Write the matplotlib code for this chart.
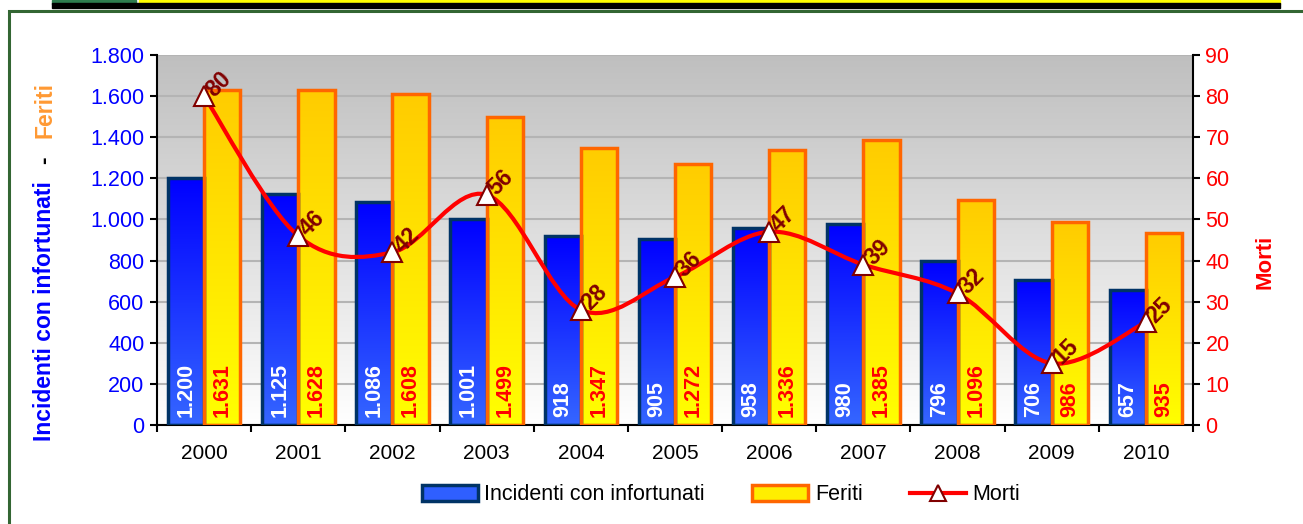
import numpy as np
import matplotlib
matplotlib.use("Agg")
import matplotlib.pyplot as plt
from matplotlib.patches import Rectangle, PathPatch
from matplotlib.path import Path
from matplotlib.lines import Line2D
from matplotlib.colors import LinearSegmentedColormap

plt.rcParams['font.family'] = ['Liberation Sans', 'DejaVu Sans']

# data
anni = ['2000', '2001', '2002', '2003', '2004', '2005', '2006', '2007', '2008', '2009', '2010']
incidenti = [1200, 1125, 1086, 1001, 918, 905, 958, 980, 796, 706, 657]
feriti = [1631, 1628, 1608, 1499, 1347, 1272, 1336, 1385, 1096, 986, 935]
morti = [80, 46, 42, 56, 28, 36, 47, 39, 32, 15, 25]

W, H = 1303, 524
fig = plt.figure(figsize=(W / 100, H / 100), dpi=100)


def fx(x):
    return x / W


def fy(y):
    return 1 - y / H


# top banner and green frame
fig.add_artist(Rectangle((fx(52), fy(4)), fx(84), 4 / H, color='#2e7d4f', transform=fig.transFigure))
fig.add_artist(Rectangle((fx(139), fy(4)), fx(1141), 4 / H, color='#ffff00', transform=fig.transFigure))
fig.add_artist(Rectangle((fx(52), fy(7.5)), fx(1228), 4 / H, color='black', transform=fig.transFigure))
fig.add_artist(Rectangle((fx(8.5), fy(600)), fx(1400), 589 / H, facecolor='none',
                         edgecolor='#336633', lw=2.2, transform=fig.transFigure))

ax = fig.add_axes([fx(157), fy(425), fx(1193 - 157), (425 - 55) / H])
ax2 = ax.twinx()

n = len(anni)
x = np.arange(n)
bw = 0.385

# plot background gradient
bg = np.linspace(0, 1, 256).reshape(-1, 1)
bg_cmap = LinearSegmentedColormap.from_list('bg', ['#ffffff', '#bfbfbf'])
ax.imshow(bg, extent=[0, 1, 0, 1], transform=ax.transAxes, aspect='auto',
          cmap=bg_cmap, origin='lower', zorder=0)

ax.set_yticks(np.arange(0, 1801, 200))
ax.yaxis.grid(True, color='#b4b4b4', lw=1.5, zorder=1)
ax.set_axisbelow(True)

blue_cmap = LinearSegmentedColormap.from_list('blu', ['#3566ff', '#0000ff'])
yel_cmap = LinearSegmentedColormap.from_list('gia', ['#ffff00', '#ffcc00'])
grad = np.linspace(0, 1, 128).reshape(-1, 1)

for i in range(n):
    x0 = x[i] - bw
    ax.imshow(grad, extent=[x0, x[i], 0, incidenti[i]], aspect='auto', cmap=blue_cmap,
              origin='lower', zorder=2)
    ax.add_patch(Rectangle((x0, 0), bw, incidenti[i], facecolor='none',
                           edgecolor='#003366', lw=2.5, zorder=3))
    ax.imshow(grad, extent=[x[i], x[i] + bw, 0, feriti[i]], aspect='auto', cmap=yel_cmap,
              origin='lower', zorder=2)
    ax.add_patch(Rectangle((x[i], 0), bw, feriti[i], facecolor='none',
                           edgecolor='#ff6600', lw=2.5, zorder=3))


def fmt(v):
    return f"{v:,}".replace(',', '.')


for i in range(n):
    ax.annotate(fmt(incidenti[i]), (x[i] - bw / 2, 0), xytext=(0, 6), textcoords='offset points',
                rotation=90, ha='center', va='bottom', color='white', fontsize=15.5,
                fontweight='bold', zorder=4)
    ax.annotate(fmt(feriti[i]), (x[i] + bw / 2, 0), xytext=(0, 6), textcoords='offset points',
                rotation=90, ha='center', va='bottom', color='#ff0000', fontsize=15.5,
                fontweight='bold', zorder=4)

ax.set_xlim(-0.5, n - 0.5)
ax.set_ylim(0, 1800)
ax.yaxis.set_major_formatter(plt.FuncFormatter(lambda v, p: fmt(int(v))))
ax.set_xticks(np.arange(n + 1) - 0.5)
ax.set_xticklabels([])
ax.set_xticks(x, minor=True)
ax.set_xticklabels(anni, minor=True)
ax.tick_params(axis='x', which='major', length=5, width=1.5, direction='out')
ax.tick_params(axis='x', which='minor', length=0, pad=14, labelsize=15, labelcolor='black')
ax.tick_params(axis='y', length=5, width=1.5, pad=4, labelsize=15.5, labelcolor='#0000ff')
for s in ['left', 'bottom']:
    ax.spines[s].set_linewidth(1.5)
ax.spines['top'].set_visible(False)
ax.spines['right'].set_visible(False)

# smoothed line for morti (bezier through the points)
pts = np.column_stack([x, morti]).astype(float)
ext = np.vstack([pts[0], pts, pts[-1]])
verts = [tuple(pts[0])]
codes = [Path.MOVETO]
for i in range(n - 1):
    p0, p1, p2, p3 = ext[i], ext[i + 1], ext[i + 2], ext[i + 3]
    verts += [tuple(p1 + (p2 - p0) / 6), tuple(p2 - (p3 - p1) / 6), tuple(p2)]
    codes += [Path.CURVE4] * 3
ax2.add_patch(PathPatch(Path(verts, codes), facecolor='none', edgecolor='#ff0000', lw=3, zorder=5))
ax2.plot(x, morti, ls='none', marker='^', ms=15, mfc='white', mec='#800000', mew=1.5, zorder=6)
for i in range(n):
    ax2.annotate(str(morti[i]), (x[i], morti[i]), xytext=(7, -1), textcoords='offset points',
                 rotation=45, rotation_mode='anchor', ha='left', va='baseline',
                 color='#800000', fontsize=16.5, fontweight='bold', zorder=7)

ax2.set_ylim(0, 90)
ax2.set_yticks(np.arange(0, 91, 10))
ax2.tick_params(axis='y', length=5, width=1.5, pad=4, labelsize=15.5, labelcolor='#ff0000')
ax2.spines['right'].set_linewidth(1.5)
ax2.spines['top'].set_visible(False)
ax2.spines['left'].set_visible(False)
ax2.spines['bottom'].set_visible(False)

# axis titles
fig.text(fx(45), fy(441), 'Incidenti con infortunati', rotation=90, ha='center', va='bottom',
         color='#0000ff', fontsize=16.5, fontweight='bold')
fig.text(fx(45), fy(160), '-', rotation=90, ha='center', va='center',
         color='black', fontsize=16.5, fontweight='bold')
fig.text(fx(45), fy(82), 'Feriti', rotation=90, ha='center', va='top',
         color='#ff9933', fontsize=16.5, fontweight='bold')
fig.text(fx(1265), fy(262), 'Morti', rotation=90, ha='center', va='center',
         color='#ff0000', fontsize=16, fontweight='bold')

# legend
handles = [Rectangle((0, 0), 1, 1, facecolor='#2f5fff', edgecolor='#003366', lw=2.5),
           Rectangle((0, 0), 1, 1, facecolor='#ffee00', edgecolor='#ff6600', lw=2.5),
           Line2D([], [], color='#ff0000', lw=3, marker='^', ms=11, mfc='white',
                  mec='#800000', mew=1.5)]
fig.legend(handles, ['Incidenti con infortunati', 'Feriti', 'Morti'], loc='center',
           bbox_to_anchor=(fx(721), fy(495)), ncol=3, frameon=False, fontsize=15.5,
           handlelength=2.6, handleheight=0.75, handletextpad=0.3, columnspacing=2.2)

fig.savefig('out.png', dpi=100)
